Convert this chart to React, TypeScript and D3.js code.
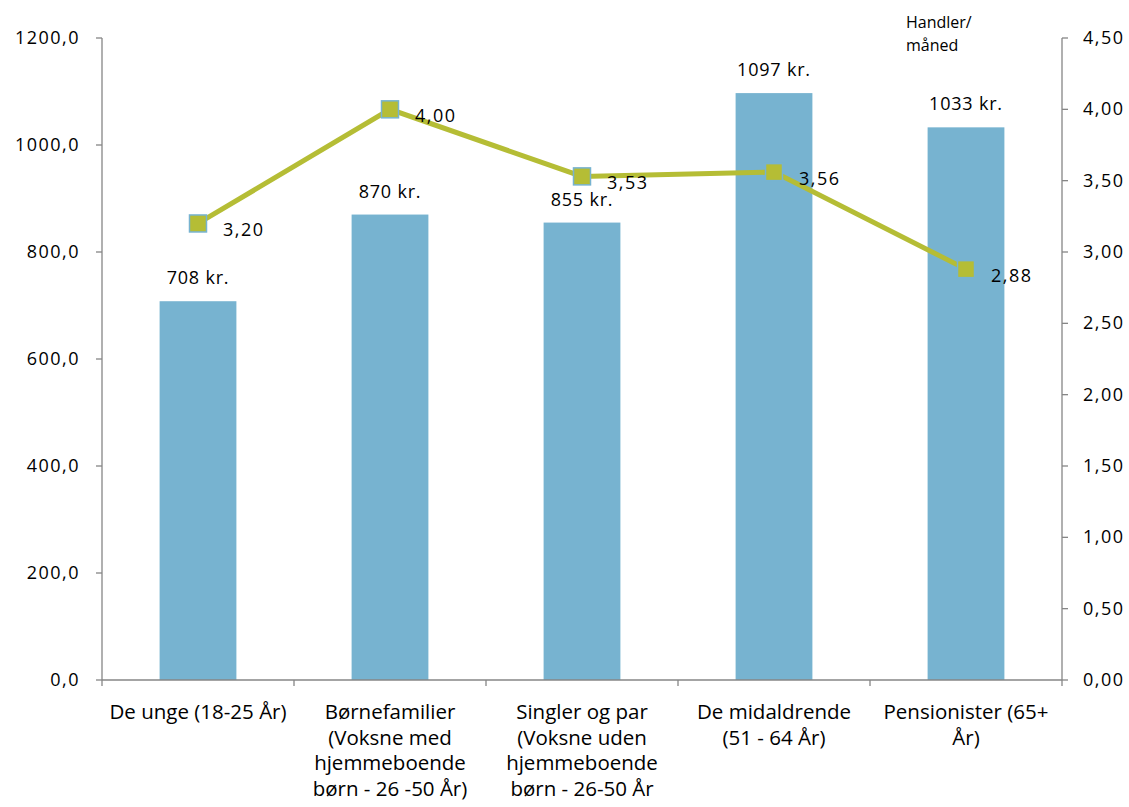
import React from "react";
import * as d3 from "d3";

const categories = [
  ["De unge (18-25 År)"],
  ["Børnefamilier", "(Voksne med", "hjemmeboende", "børn - 26 -50 År)"],
  ["Singler og par", "(Voksne uden", "hjemmeboende", "børn - 26-50 År"],
  ["De midaldrende", "(51 - 64 År)"],
  ["Pensionister (65+", "År)"],
];
const spend = [708, 870, 855, 1097, 1033];
const spendLabels = ["708 kr.", "870 kr.", "855 kr.", "1097 kr.", "1033 kr."];
const trips = [3.2, 4.0, 3.53, 3.56, 2.88];
const tripLabels = ["3,20", "4,00", "3,53", "3,56", "2,88"];
const leftTicks = [0, 200, 400, 600, 800, 1000, 1200];
const rightTicks = [0, 0.5, 1, 1.5, 2, 2.5, 3, 3.5, 4, 4.5];

const W = 1129;
const H = 807;
const left = 102;
const right = 1062;
const top = 38;
const bottom = 680;
const font = "'Open Sans', sans-serif";
const catFont = "'Open Sans', sans-serif";

export default function App() {
  const x = d3.scaleBand<number>().domain(d3.range(categories.length)).range([left, right]).paddingInner(0).paddingOuter(0);
  const yL = d3.scaleLinear().domain([0, 1200]).range([bottom, top]);
  const yR = d3.scaleLinear().domain([0, 4.5]).range([bottom, top]);
  const bw = x.bandwidth() * 0.4;
  const cx = (i: number) => (x(i) as number) + x.bandwidth() / 2;
  const line = d3.line<number>().x((_, i) => cx(i)).y((d) => yR(d));
  const fmtL = (v: number) => v.toFixed(1).replace(".", ",");
  const fmtR = (v: number) => v.toFixed(2).replace(".", ",");

  return (
    <svg width={W} height={H} style={{ position: "absolute", left: 0, top: 0, background: "#fff" }}>
      {spend.map((v, i) => (
        <rect key={i} x={cx(i) - bw / 2} y={yL(v)} width={bw} height={bottom - yL(v)} fill="#77B3D0" />
      ))}
      <line x1={left} x2={left} y1={top} y2={bottom} stroke="#868686" strokeWidth={1.3} />
      <line x1={right} x2={right} y1={top} y2={bottom} stroke="#868686" strokeWidth={1.3} />
      <line x1={left} x2={right} y1={bottom} y2={bottom} stroke="#868686" strokeWidth={1.3} />
      {leftTicks.map((t) => (
        <g key={"l" + t}>
          <line x1={left - 6} x2={left} y1={yL(t)} y2={yL(t)} stroke="#868686" strokeWidth={1.3} />
          <text x={80} y={yL(t) + 6} textAnchor="end" fontFamily={font} fontSize={18} letterSpacing={1.5} fill="#000">
            {fmtL(t)}
          </text>
        </g>
      ))}
      {rightTicks.map((t) => (
        <g key={"r" + t}>
          <line x1={right} x2={right + 6} y1={yR(t)} y2={yR(t)} stroke="#868686" strokeWidth={1.3} />
          <text x={1083} y={yR(t) + 6} textAnchor="start" fontFamily={font} fontSize={18} letterSpacing={1.5} fill="#000">
            {fmtR(t)}
          </text>
        </g>
      ))}
      {d3.range(categories.length + 1).map((i) => {
        const xx = i < categories.length ? (x(i) as number) : right;
        return <line key={"xt" + i} x1={xx} x2={xx} y1={bottom} y2={bottom + 6} stroke="#868686" strokeWidth={1.3} />;
      })}
      {categories.map((lines, i) => (
        <text key={"c" + i} x={cx(i)} textAnchor="middle" fontFamily={catFont} fontSize={20.5} fill="#000">
          {lines.map((l, j) => (
            <tspan key={j} x={cx(i)} y={719 + j * 25.5}>
              {l}
            </tspan>
          ))}
        </text>
      ))}
      <text fontFamily={catFont} fontSize={16} fill="#000">
        <tspan x={906} y={28}>Handler/</tspan>
        <tspan x={906} y={51}>måned</tspan>
      </text>
      {spend.map((v, i) => (
        <text key={"sl" + i} x={cx(i)} y={yL(v) - 17} textAnchor="middle" fontFamily={font} fontSize={18} letterSpacing={0.8} fill="#000">
          {spendLabels[i]}
        </text>
      ))}
      <path d={line(trips) || ""} fill="none" stroke="#B5BD35" strokeWidth={5} />
      {trips.map((v, i) => (
        <rect key={"m" + i} x={cx(i) - 8.5} y={yR(v) - 8.5} width={17} height={17} fill="#B5BD35" stroke="#77B3D0" strokeWidth={1.5} />
      ))}
      {trips.map((v, i) => (
        <text key={"tl" + i} x={cx(i) + 25} y={yR(v) + 13} fontFamily={font} fontSize={18} letterSpacing={1.5} fill="#000">
          {tripLabels[i]}
        </text>
      ))}
    </svg>
  );
}
